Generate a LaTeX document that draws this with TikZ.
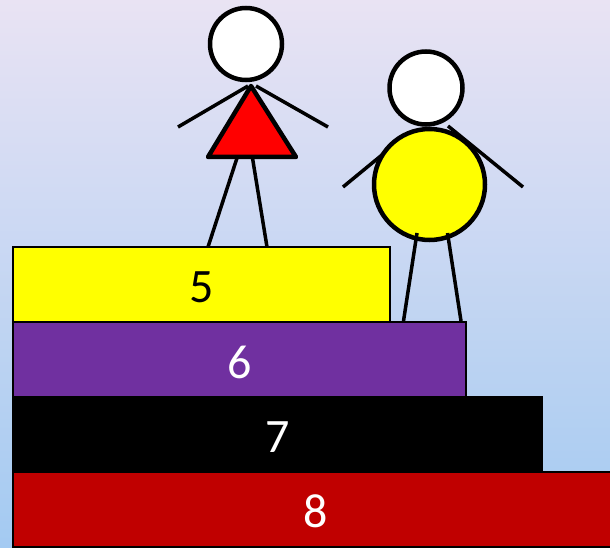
\documentclass[tikz,border=0pt]{standalone}
\usepackage{fontspec}
\setmainfont{Carlito}
\definecolor{bgtop}{RGB}{233,227,243}
\definecolor{bgbot}{RGB}{163,202,242}
\definecolor{stepyellow}{RGB}{255,255,0}
\definecolor{steppurple}{RGB}{112,48,160}
\definecolor{stepred}{RGB}{192,0,0}
\definecolor{dressred}{RGB}{255,0,0}
\begin{document}
\begin{tikzpicture}[x=1pt,y=-1pt,
  stepbox/.style={draw=black,line width=2pt},
  digit/.style={inner sep=0pt,font=\fontsize{48}{48}\selectfont},
  limb/.style={line width=3.5pt},
  outline/.style={draw=black,line width=4.5pt}]
\useasboundingbox (0,0) rectangle (610,548);
\shade[top color=bgtop,bottom color=bgbot] (0,0) rectangle (610,548);
% steps
\draw[stepbox,fill=stepred] (13,472) rectangle (620,547);
\draw[stepbox,fill=black] (13,397) rectangle (542,472);
\draw[stepbox,fill=steppurple] (13,322) rectangle (466,397);
\draw[stepbox,fill=stepyellow] (13,247) rectangle (390,322);
\node[digit,text=black] (n5) at (202,287) {5};
\node[digit,text=white] (n6) at (239.5,362) {6};
\node[digit,text=white] (n7) at (277.5,437) {7};
\node[digit,text=white] (n8) at (315.5,511.5) {8};
% girl
\draw[limb] (178,127) -- (248,86);
\draw[limb] (256,86) -- (328,127);
\draw[limb] (237,158) -- (208,247);
\draw[limb] (252.5,158) -- (267,247);
\draw[outline,fill=dressred,line join=round] (251,86) -- (208,157) -- (296,157) -- cycle;
\draw[outline,fill=white] (246,44) circle (36);
% boy
\draw[limb] (343,187) -- (405,136);
\draw[limb] (448,126) -- (523,187);
\draw[outline,fill=stepyellow] (429.5,184.5) circle (55.5);
\draw[outline,fill=white] (426,88) circle (36.5);
\draw[limb] (417,233) -- (403.5,321);
\draw[limb] (447.5,233) -- (461,321);
\end{tikzpicture}
\end{document}
